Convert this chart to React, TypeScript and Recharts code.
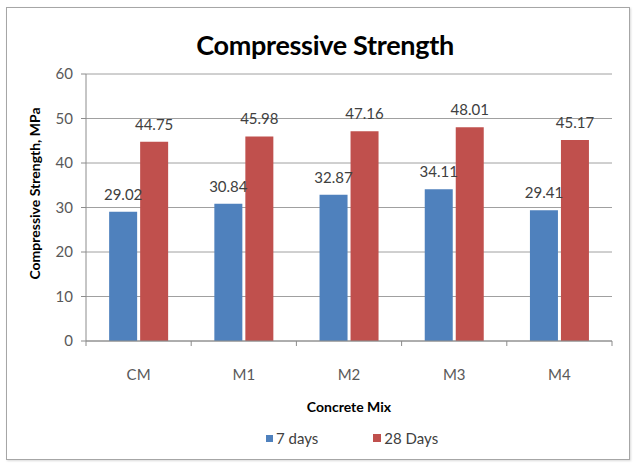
import React from 'react';
import { Bar, BarChart, CartesianGrid, LabelList, XAxis, YAxis, Label } from 'recharts';

const MIXES = ['CM', 'M1', 'M2', 'M3', 'M4'];
const DAYS_7 = [29.02, 30.84, 32.87, 34.11, 29.41];
const DAYS_28 = [44.75, 45.98, 47.16, 48.01, 45.17];
const Y_TICKS = [0, 10, 20, 30, 40, 50, 60];

const BLUE = '#4f81bd';
const RED = '#c0504d';
const FONT = 'Lato, "Open Sans", sans-serif';

const rows = MIXES.map((mix, i) => ({ mix, d7: DAYS_7[i], d28: DAYS_28[i] }));

const W = 639;
const H = 466;
const MARGIN = { top: 74, right: 27, bottom: 95, left: 46 };
const BAND = (W - MARGIN.left - 40 - MARGIN.right) / MIXES.length;

function MixTick(props: any) {
  const { x, y, payload } = props;
  const half = payload && payload.offset ? payload.offset : BAND / 2;
  return (
    <g>
      {payload.index === 0 ? <line x1={x - half} x2={x - half} y1={y} y2={y + 5} stroke="#8c8c8c" /> : null}
      <line x1={x + half} x2={x + half} y1={y} y2={y + 5} stroke="#8c8c8c" />
      <text x={x} y={y + 39} textAnchor="middle" fill="#595959" fontSize={15} fontFamily={FONT}>
        {payload.value}
      </text>
    </g>
  );
}

export default function App() {
  return (
    <div style={{ position: 'absolute', left: 0, top: 0, width: W, height: H, background: '#fff' }}>
      <div
        style={{
          position: 'absolute',
          left: 6,
          top: 7,
          width: 622,
          height: 451,
          border: '1px solid #a6a6a6',
          boxShadow: '1px 1px 2px rgba(0,0,0,0.15)',
        }}
      />
      <div
        style={{
          position: 'absolute',
          left: 0,
          width: 650,
          top: 28,
          textAlign: 'center',
          fontFamily: FONT,
          fontWeight: 700,
          fontSize: 27,
          letterSpacing: -0.3,
          color: '#000',
          lineHeight: '34px',
        }}
      >
        Compressive Strength
      </div>
      <div style={{ position: 'absolute', left: 0, top: 0 }}>
        <BarChart width={W} height={H} data={rows} margin={MARGIN} barCategoryGap="22%" barGap={3}>
          <CartesianGrid vertical={false} stroke="#a0a0a0" />
          <XAxis
            dataKey="mix"
            height={30}
            stroke="#8c8c8c"
            tickLine={false}
            tickSize={0}
            tickMargin={0}
            tick={<MixTick />}
          >
            <Label
              value="Concrete Mix"
              position="bottom"
              offset={31}
              fill="#000"
              fontSize={14}
              fontWeight={700}
              fontFamily={FONT}
            />
          </XAxis>
          <YAxis
            width={40}
            domain={[0, 60]}
            ticks={Y_TICKS}
            stroke="#8c8c8c"
            tickSize={5}
            tickMargin={8}
            tick={{ fill: '#595959', fontSize: 15, fontFamily: FONT }}
          >
            <Label
              value="Compressive Strength, MPa"
              position="center"
              angle={-90}
              dx={-31}
              dy={-14}
              fill="#000"
              fontSize={14}
              fontWeight={700}
              fontFamily={FONT}
            />
          </YAxis>
          <Bar dataKey="d7" name="7 days" fill={BLUE} isAnimationActive={false}>
            <LabelList
              dataKey="d7"
              position="top"
              offset={12}
              fill="#404040"
              fontSize={15}
              fontFamily={FONT}
              formatter={(v: any) => Number(v).toFixed(2)}
            />
          </Bar>
          <Bar dataKey="d28" name="28 Days" fill={RED} isAnimationActive={false}>
            <LabelList
              dataKey="d28"
              position="top"
              offset={12}
              fill="#404040"
              fontSize={15}
              fontFamily={FONT}
              formatter={(v: any) => Number(v).toFixed(2)}
            />
          </Bar>
        </BarChart>
      </div>
      <div
        style={{
          position: 'absolute',
          top: 428,
          left: 266,
          display: 'flex',
          alignItems: 'center',
          fontFamily: FONT,
          fontSize: 15,
          color: '#404040',
          lineHeight: '20px',
        }}
      >
        <span style={{ width: 7, height: 7, background: BLUE, marginRight: 3 }} />
        <span>7 days</span>
        <span style={{ width: 8, height: 8, background: RED, marginLeft: 55, marginRight: 3 }} />
        <span>28 Days</span>
      </div>
    </div>
  );
}
